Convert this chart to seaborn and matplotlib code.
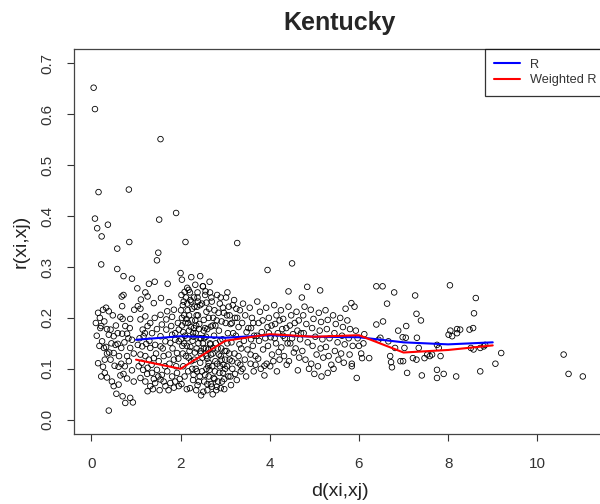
import numpy as np
import pandas as pd
import seaborn as sns
import matplotlib.pyplot as plt

# distancia vs correlacion, puntos leidos a ojo del grafico original
outliers = [(0.05, 0.652), (0.08, 0.610), (1.55, 0.551), (0.16, 0.447), (0.84, 0.452),
            (0.08, 0.395), (0.13, 0.376), (0.37, 0.383), (0.23, 0.360), (1.52, 0.393),
            (1.90, 0.406), (0.85, 0.349), (2.11, 0.349), (0.58, 0.336), (1.50, 0.328),
            (1.47, 0.313), (0.22, 0.305), (0.58, 0.296), (0.72, 0.282), (0.91, 0.277),
            (3.27, 0.347), (3.95, 0.294), (4.50, 0.307), (4.42, 0.252), (2.00, 0.288),
            (2.03, 0.275), (2.24, 0.280), (2.44, 0.282), (2.65, 0.271), (2.50, 0.262),
            (2.56, 0.252), (2.38, 0.250), (2.15, 0.259), (2.09, 0.251), (0.68, 0.242),
            (0.72, 0.245), (5.13, 0.254)]

near = [(0.10, 0.190), (0.19, 0.200), (0.22, 0.184), (0.26, 0.216), (0.33, 0.220),
        (0.39, 0.213), (0.29, 0.193), (0.35, 0.178), (0.43, 0.177), (0.39, 0.167),
        (0.50, 0.164), (0.59, 0.170), (0.69, 0.169), (0.74, 0.152), (0.59, 0.149),
        (0.67, 0.141), (0.50, 0.131), (0.28, 0.141), (0.33, 0.143), (0.40, 0.132),
        (0.15, 0.111), (0.26, 0.104), (0.22, 0.085), (0.30, 0.092), (0.35, 0.083),
        (0.46, 0.075), (0.50, 0.066), (0.61, 0.069), (0.56, 0.051), (0.70, 0.046),
        (0.76, 0.033), (0.87, 0.043), (0.93, 0.034), (0.39, 0.018), (0.65, 0.087),
        (0.72, 0.090), (0.80, 0.081), (0.91, 0.097), (0.95, 0.075), (0.84, 0.115),
        (0.67, 0.110), (0.61, 0.104), (0.80, 0.125), (0.87, 0.141), (0.91, 0.157),
        (0.86, 0.180), (0.87, 0.198), (0.96, 0.216), (1.04, 0.223), (1.10, 0.218),
        (0.69, 0.223), (0.65, 0.202), (0.43, 0.118), (0.52, 0.106), (0.35, 0.130),
        (0.20, 0.180), (0.24, 0.154), (0.54, 0.147), (0.76, 0.184), (0.80, 0.169),
        (0.12, 0.165), (0.18, 0.145), (0.30, 0.118), (0.45, 0.150), (0.55, 0.185),
        (0.62, 0.125), (0.75, 0.105), (0.83, 0.160), (0.95, 0.130), (0.15, 0.210),
        (0.48, 0.205), (0.70, 0.198)]

one_two = [(1.04, 0.147), (1.14, 0.144), (1.23, 0.149), (1.32, 0.141), (1.43, 0.147),
           (1.55, 0.144), (1.66, 0.154), (1.77, 0.151), (1.88, 0.157), (1.10, 0.128),
           (1.21, 0.125), (1.29, 0.118), (1.40, 0.121), (1.51, 0.115), (1.62, 0.125),
           (1.73, 0.128), (1.85, 0.118), (1.92, 0.131), (1.06, 0.105), (1.16, 0.098),
           (1.26, 0.102), (1.36, 0.092), (1.47, 0.098), (1.58, 0.088), (1.70, 0.095),
           (1.81, 0.085), (1.92, 0.092), (1.10, 0.082), (1.21, 0.075), (1.32, 0.066),
           (1.43, 0.072), (1.55, 0.079), (1.66, 0.066), (1.77, 0.072), (1.88, 0.075),
           (1.26, 0.056), (1.38, 0.060), (1.53, 0.058), (1.73, 0.058), (1.96, 0.066),
           (1.15, 0.177), (1.26, 0.184), (1.36, 0.170), (1.47, 0.178), (1.58, 0.187),
           (1.68, 0.177), (1.79, 0.184), (1.88, 0.170), (1.10, 0.197), (1.21, 0.203),
           (1.32, 0.190), (1.42, 0.200), (1.55, 0.206), (1.68, 0.197), (1.81, 0.202),
           (1.94, 0.190), (1.96, 0.177), (1.11, 0.236), (1.26, 0.242), (1.40, 0.229),
           (1.56, 0.239), (1.74, 0.231), (1.85, 0.216), (1.70, 0.213), (1.29, 0.267),
           (1.42, 0.271), (1.71, 0.267), (1.03, 0.258), (1.21, 0.250), (1.17, 0.164),
           (1.55, 0.164), (1.81, 0.167), (1.96, 0.154), (1.08, 0.160), (1.20, 0.170),
           (1.30, 0.155), (1.45, 0.130), (1.60, 0.140), (1.75, 0.110), (1.90, 0.105),
           (1.35, 0.108), (1.50, 0.085), (1.65, 0.105), (1.82, 0.140), (1.95, 0.120),
           (1.13, 0.112), (1.25, 0.090), (1.40, 0.080), (1.62, 0.075), (1.85, 0.063),
           (1.98, 0.080)]

two_35 = [(2.02, 0.245), (2.05, 0.225), (2.08, 0.205), (2.03, 0.185), (2.10, 0.165),
          (2.04, 0.145), (2.12, 0.125), (2.06, 0.105), (2.09, 0.085), (2.02, 0.070),
          (2.14, 0.060), (2.18, 0.255), (2.22, 0.235), (2.16, 0.215), (2.25, 0.195),
          (2.19, 0.175), (2.27, 0.155), (2.20, 0.135), (2.24, 0.115), (2.17, 0.095),
          (2.28, 0.078), (2.21, 0.062), (2.33, 0.265), (2.38, 0.240), (2.31, 0.222),
          (2.36, 0.205), (2.42, 0.188), (2.34, 0.170), (2.40, 0.150), (2.32, 0.132),
          (2.44, 0.112), (2.37, 0.095), (2.41, 0.075), (2.35, 0.058), (2.46, 0.048),
          (2.50, 0.262), (2.55, 0.245), (2.48, 0.228), (2.58, 0.212), (2.52, 0.196),
          (2.60, 0.178), (2.53, 0.160), (2.57, 0.140), (2.49, 0.122), (2.62, 0.105),
          (2.55, 0.088), (2.60, 0.070), (2.51, 0.055), (2.66, 0.250), (2.70, 0.232),
          (2.64, 0.218), (2.73, 0.200), (2.68, 0.183), (2.75, 0.165), (2.67, 0.148),
          (2.72, 0.130), (2.78, 0.115), (2.65, 0.098), (2.74, 0.082), (2.70, 0.065),
          (2.80, 0.058), (2.82, 0.245), (2.88, 0.228), (2.85, 0.210), (2.92, 0.193),
          (2.86, 0.175), (2.94, 0.158), (2.83, 0.140), (2.90, 0.125), (2.96, 0.108),
          (2.87, 0.092), (2.93, 0.075), (2.98, 0.060), (3.02, 0.240), (3.08, 0.222),
          (3.04, 0.205), (3.12, 0.188), (3.06, 0.170), (3.14, 0.152), (3.03, 0.135),
          (3.10, 0.118), (3.16, 0.100), (3.07, 0.085), (3.13, 0.068), (3.20, 0.235),
          (3.25, 0.218), (3.22, 0.200), (3.30, 0.182), (3.24, 0.165), (3.32, 0.148),
          (3.21, 0.130), (3.28, 0.112), (3.35, 0.095), (3.26, 0.078), (3.40, 0.228),
          (3.45, 0.205), (3.38, 0.190), (3.48, 0.172), (3.42, 0.155), (3.50, 0.138),
          (3.44, 0.118), (3.39, 0.100), (3.47, 0.085), (2.13, 0.198), (2.30, 0.180),
          (2.46, 0.160), (2.62, 0.138), (2.78, 0.185), (2.97, 0.210), (3.18, 0.170),
          (3.36, 0.140), (2.44, 0.225), (2.60, 0.120), (2.89, 0.155), (3.05, 0.150),
          (2.26, 0.100), (2.14, 0.145), (2.71, 0.105), (2.55, 0.180), (2.39, 0.205),
          (3.00, 0.100), (2.84, 0.075), (3.22, 0.090)]

# zona mas densa entre 2 y 3.3
dense = [(2.01, 0.215), (2.07, 0.232), (2.11, 0.190), (2.15, 0.228), (2.19, 0.205),
         (2.23, 0.182), (2.26, 0.218), (2.30, 0.240), (2.33, 0.195), (2.37, 0.222),
         (2.41, 0.178), (2.06, 0.172), (2.12, 0.240), (2.21, 0.250), (2.28, 0.170),
         (2.35, 0.185), (2.03, 0.200), (2.17, 0.190), (2.24, 0.232), (2.39, 0.232),
         (2.01, 0.158), (2.08, 0.150), (2.15, 0.160), (2.22, 0.143), (2.29, 0.163),
         (2.36, 0.140), (2.43, 0.160), (2.50, 0.150), (2.57, 0.163), (2.05, 0.130),
         (2.18, 0.122), (2.31, 0.118), (2.45, 0.135), (2.52, 0.175), (2.45, 0.130),
         (2.52, 0.140), (2.58, 0.125), (2.63, 0.112), (2.68, 0.128), (2.73, 0.140),
         (2.77, 0.095), (2.82, 0.110), (2.86, 0.128), (2.91, 0.140), (2.95, 0.092),
         (3.00, 0.118), (3.04, 0.105), (3.09, 0.130), (3.12, 0.085), (2.48, 0.095),
         (2.53, 0.075), (2.58, 0.100), (2.63, 0.085), (2.68, 0.070), (2.76, 0.080),
         (2.81, 0.065), (2.88, 0.105), (2.92, 0.118), (2.98, 0.080), (2.43, 0.085),
         (2.66, 0.150), (2.79, 0.150), (2.99, 0.135), (3.15, 0.115), (2.34, 0.100),
         (2.29, 0.088), (2.38, 0.068), (2.60, 0.058), (2.72, 0.050), (2.90, 0.062),
         (2.58, 0.230), (2.63, 0.200), (2.69, 0.240), (2.76, 0.215), (2.81, 0.195),
         (2.90, 0.240), (2.95, 0.220), (3.01, 0.190), (3.10, 0.205), (3.17, 0.225),
         (3.27, 0.200), (2.72, 0.185), (3.05, 0.250), (3.15, 0.190), (3.33, 0.215)]

mid = [(3.55, 0.220), (3.60, 0.200), (3.58, 0.180), (3.65, 0.165), (3.62, 0.145),
       (3.68, 0.125), (3.57, 0.110), (3.64, 0.095), (3.72, 0.232), (3.78, 0.212),
       (3.75, 0.190), (3.82, 0.172), (3.76, 0.155), (3.85, 0.138), (3.74, 0.120),
       (3.80, 0.100), (3.88, 0.087), (3.92, 0.220), (3.98, 0.200), (3.95, 0.182),
       (4.02, 0.162), (3.96, 0.145), (4.05, 0.128), (3.93, 0.110), (4.10, 0.225),
       (4.15, 0.205), (4.12, 0.188), (4.18, 0.170), (4.14, 0.150), (4.20, 0.133),
       (4.08, 0.115), (4.16, 0.095), (4.25, 0.215), (4.30, 0.198), (4.28, 0.178),
       (4.34, 0.160), (4.26, 0.142), (4.32, 0.125), (4.38, 0.108), (4.42, 0.222),
       (4.48, 0.205), (4.45, 0.185), (4.52, 0.168), (4.46, 0.150), (4.54, 0.132),
       (4.43, 0.115), (4.60, 0.212), (4.65, 0.195), (4.62, 0.175), (4.68, 0.158),
       (4.58, 0.140), (4.66, 0.122), (4.63, 0.097), (3.68, 0.108), (3.88, 0.106),
       (4.01, 0.105), (4.22, 0.118), (3.57, 0.128), (3.34, 0.108), (3.30, 0.125),
       (3.52, 0.180), (3.63, 0.190), (3.71, 0.165), (3.84, 0.195), (3.90, 0.160),
       (4.04, 0.185), (4.11, 0.160), (4.22, 0.195), (4.37, 0.180), (4.40, 0.150),
       (4.56, 0.190), (4.70, 0.170), (3.58, 0.158), (3.98, 0.170), (4.30, 0.165),
       (4.50, 0.160)]

five_six = [(4.72, 0.240), (4.78, 0.222), (4.75, 0.205), (4.82, 0.188), (4.76, 0.170),
            (4.85, 0.152), (4.73, 0.135), (4.80, 0.118), (4.88, 0.100), (4.84, 0.261),
            (4.92, 0.216), (4.98, 0.198), (4.95, 0.180), (5.02, 0.163), (4.96, 0.145),
            (5.05, 0.128), (4.93, 0.110), (5.00, 0.090), (5.10, 0.210), (5.15, 0.192),
            (5.12, 0.175), (5.18, 0.158), (5.14, 0.140), (5.20, 0.122), (5.08, 0.105),
            (5.16, 0.085), (5.25, 0.215), (5.30, 0.196), (5.28, 0.178), (5.34, 0.160),
            (5.26, 0.143), (5.32, 0.125), (5.38, 0.108), (5.30, 0.092), (5.42, 0.205),
            (5.48, 0.188), (5.45, 0.170), (5.52, 0.152), (5.46, 0.135), (5.54, 0.118),
            (5.43, 0.100), (5.58, 0.200), (5.64, 0.182), (5.62, 0.165), (5.68, 0.148),
            (5.60, 0.130), (5.66, 0.112), (5.70, 0.218), (5.74, 0.195), (5.80, 0.178),
            (5.77, 0.160), (5.83, 0.229), (5.86, 0.145), (5.79, 0.128), (5.84, 0.110),
            (5.90, 0.222), (5.93, 0.175), (5.97, 0.160), (6.00, 0.145), (5.95, 0.082),
            (6.05, 0.130), (6.10, 0.150), (6.12, 0.168), (6.07, 0.121), (6.23, 0.121),
            (5.84, 0.105)]

far = [(6.39, 0.262), (6.53, 0.262), (6.79, 0.250), (6.63, 0.228), (6.54, 0.193),
       (6.39, 0.187), (6.88, 0.175), (7.06, 0.184), (7.26, 0.244), (7.29, 0.208),
       (7.39, 0.195), (6.48, 0.161), (6.44, 0.157), (6.66, 0.154), (6.81, 0.141),
       (6.98, 0.162), (7.05, 0.161), (7.02, 0.141), (7.30, 0.161), (7.34, 0.141),
       (7.21, 0.121), (6.70, 0.125), (6.72, 0.113), (6.74, 0.103), (6.93, 0.115),
       (6.99, 0.115), (7.08, 0.092), (7.29, 0.118), (7.41, 0.087), (7.53, 0.128),
       (7.47, 0.121), (8.04, 0.264), (8.62, 0.239), (8.58, 0.209), (8.56, 0.180),
       (8.48, 0.177), (8.27, 0.177), (8.20, 0.178), (8.05, 0.175), (8.01, 0.167),
       (8.09, 0.164), (8.20, 0.170), (7.75, 0.147), (7.79, 0.141), (7.83, 0.125),
       (7.59, 0.125), (7.64, 0.128), (7.75, 0.098), (7.75, 0.082), (7.90, 0.090),
       (8.18, 0.085), (8.51, 0.141), (8.57, 0.138), (8.72, 0.141), (8.80, 0.144),
       (8.72, 0.095), (8.83, 0.147), (9.06, 0.110), (9.19, 0.131), (10.59, 0.128),
       (10.70, 0.090), (11.02, 0.085)]

# medias por clase de distancia
dist_bin = [1, 2, 3, 4, 5, 6, 7, 8, 9]
r_mean = [0.157, 0.164, 0.161, 0.166, 0.163, 0.162, 0.152, 0.148, 0.152]
r_weighted = [0.118, 0.100, 0.155, 0.168, 0.163, 0.166, 0.132, 0.137, 0.146]

pts = pd.DataFrame(outliers + near + one_two + two_35 + dense + mid + five_six + far,
                   columns=['d', 'r'])
lines = pd.DataFrame({'d': dist_bin * 2,
                      'r': r_mean + r_weighted,
                      'serie': ['R'] * 9 + ['Weighted R'] * 9})

sns.set_style('white')
plt.rcParams['font.family'] = ['Liberation Sans', 'DejaVu Sans']

fig = plt.figure(figsize=(6, 5.04), dpi=100)
ax = fig.add_axes([74 / 600, 70 / 504, 532 / 600, 385 / 504])

sns.scatterplot(data=pts, x='d', y='r', ax=ax, s=16, marker='o',
                facecolor='none', edgecolor='black', linewidth=0.6)
sns.lineplot(data=lines, x='d', y='r', hue='serie', ax=ax,
             palette={'R': '#0000ff', 'Weighted R': '#ff0000'},
             linewidth=1.5, estimator=None, sort=False)

ax.set_xlim(-0.39, 11.54)
ax.set_ylim(-0.028, 0.728)
ax.set_xticks([0, 2, 4, 6, 8, 10])
ax.set_yticks(np.arange(0, 0.71, 0.1))
ax.set_yticklabels([f'{v:.1f}' for v in np.arange(0, 0.71, 0.1)],
                   rotation=90, va='center')
ax.tick_params(axis='both', direction='out', length=5, width=0.8,
               colors='#333333', labelsize=11, left=True, bottom=True)
ax.tick_params(axis='x', pad=11.5)
ax.tick_params(axis='y', pad=9)
for sp in ax.spines.values():
    sp.set_color('#444444')
    sp.set_linewidth(0.9)

ax.set_xlabel('d(xi,xj)', fontsize=14, color='#222222', labelpad=9)
ax.set_ylabel('r(xi,xj)', fontsize=14, color='#222222', labelpad=8)
ax.set_title('Kentucky', fontsize=18, fontweight='bold', pad=14)

leg = ax.legend(loc='upper right', bbox_to_anchor=(1, 1), borderaxespad=0,
                fontsize=9.2, frameon=True, fancybox=False, edgecolor='black',
                handlelength=2.0, handletextpad=0.8, borderpad=0.75,
                labelspacing=0.3, title=None)
leg.get_frame().set_linewidth(0.9)
for t in leg.get_texts():
    t.set_color('#333333')

fig.savefig('out.png', dpi=100)
